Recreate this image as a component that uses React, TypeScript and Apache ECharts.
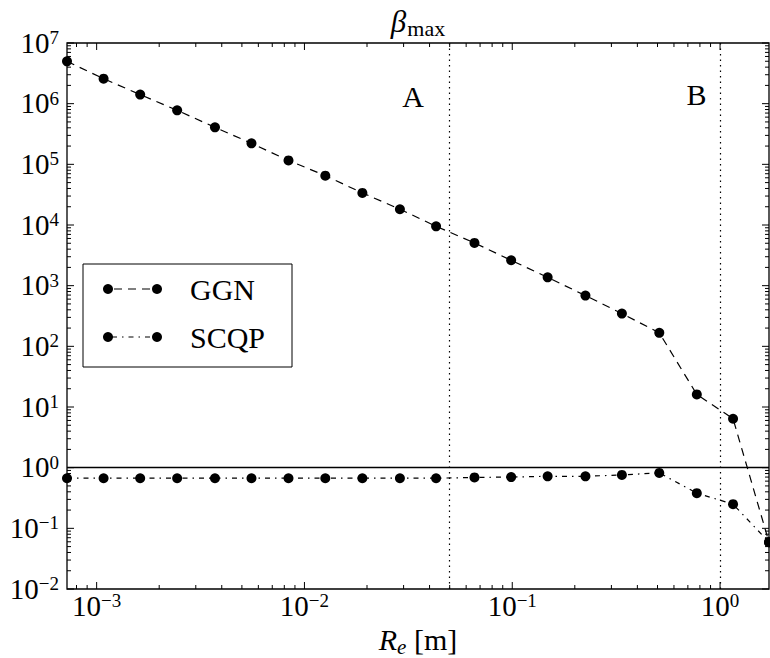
import React, { useEffect, useRef } from 'react';
import * as echarts from 'echarts';

// ---- data ----
const reValues = [
  7.2e-4, 1.08e-3, 1.62e-3, 2.44e-3, 3.71e-3, 5.56e-3, 8.38e-3, 0.0126, 0.019, 0.0288,
  0.043, 0.0658, 0.0988, 0.148, 0.225, 0.337, 0.51, 0.773, 1.155, 1.72,
];
const ggnValues = [
  4.98e6, 2.58e6, 1.41e6, 7.76e5, 4.07e5, 2.22e5, 1.16e5, 6.5e4, 3.38e4, 1.82e4,
  9.5e3, 5.07e3, 2.62e3, 1.37e3, 687, 347, 167, 16.1, 6.4, 0.059,
];
const scqpValues = [
  0.67, 0.67, 0.67, 0.67, 0.67, 0.67, 0.67, 0.67, 0.67, 0.67,
  0.67, 0.69, 0.7, 0.72, 0.72, 0.76, 0.82, 0.38, 0.25, 0.059,
];
const xRange = [7.2e-4, 1.72];
const yRange = [1e-2, 1e7];
const xMajorTicks = [1e-3, 1e-2, 1e-1, 1];
const xMinorTicks = [
  8e-4, 9e-4,
  2e-3, 3e-3, 4e-3, 5e-3, 6e-3, 7e-3, 8e-3, 9e-3,
  2e-2, 3e-2, 4e-2, 5e-2, 6e-2, 7e-2, 8e-2, 9e-2,
  0.2, 0.3, 0.4, 0.5, 0.6, 0.7, 0.8, 0.9,
];
const yMajorTicks = [1e-2, 1e-1, 1, 1e1, 1e2, 1e3, 1e4, 1e5, 1e6, 1e7];
const yMinorTicks = [
  2e-2, 3e-2, 4e-2, 5e-2, 6e-2, 7e-2, 8e-2, 9e-2,
  0.2, 0.3, 0.4, 0.5, 0.6, 0.7, 0.8, 0.9,
  2, 3, 4, 5, 6, 7, 8, 9,
  20, 30, 40, 50, 60, 70, 80, 90,
  200, 300, 400, 500, 600, 700, 800, 900,
  2e3, 3e3, 4e3, 5e3, 6e3, 7e3, 8e3, 9e3,
  2e4, 3e4, 4e4, 5e4, 6e4, 7e4, 8e4, 9e4,
  2e5, 3e5, 4e5, 5e5, 6e5, 7e5, 8e5, 9e5,
  2e6, 3e6, 4e6, 5e6, 6e6, 7e6, 8e6, 9e6,
];
const regionBounds = [0.05, 1.0];
const unityLevel = 1;
const regionLabelNames = ['A', 'B'];
const regionLabelX = [0.0333, 0.77];
const regionLabelY = [1.32e6, 1.4e6];
const seriesNames = ['GGN', 'SCQP'];

const FONT = 'Liberation Serif';

const plain = { fontFamily: FONT, fontStyle: 'normal', fontWeight: 'normal', color: '#000' };
const ital = { fontFamily: FONT, fontStyle: 'italic', fontWeight: 'normal', color: '#000' };

const powRich = {
  b: { ...plain, fontSize: 29, lineHeight: 30, verticalAlign: 'top' },
  s: { ...plain, fontSize: 19, lineHeight: 19, verticalAlign: 'top' },
};

function powLabel(v: number): string {
  const l = Math.log10(v);
  const e = Math.round(l);
  if (Math.abs(l - e) > 1e-6) return '';
  const exp = e < 0 ? '\u2212' + -e : String(e);
  return '{b|10}{s|' + exp + '}';
}

const legendText = (text: string, y: number) => ({
  type: 'text', x: 190, y,
  style: {
    text, fontFamily: FONT, fontSize: 30, fontStyle: 'normal', fontWeight: 'normal',
    fill: '#000', align: 'left', verticalAlign: 'middle',
  },
});

export default function App() {
  const ref = useRef<HTMLDivElement>(null);
  useEffect(() => {
    if (!ref.current) return;
    const chart = echarts.init(ref.current, null, { renderer: 'svg' });

    const tickData = [
      ...xMajorTicks.map((v) => [v, yRange[0], 1, 0]),
      ...xMinorTicks.map((v) => [v, yRange[0], 0, 0]),
      ...yMajorTicks.map((v) => [xRange[0], v, 1, 1]),
      ...yMinorTicks.map((v) => [xRange[0], v, 0, 1]),
    ];

    const dotted = { type: [1.5, 4], color: '#000', width: 1.2 };

    const option: any = {
      animation: false,
      backgroundColor: '#fff',
      textStyle: { fontFamily: FONT },
      grid: {
        left: 67, right: 1, top: 43, bottom: 69,
        show: true, borderColor: '#000', borderWidth: 1.3,
        backgroundColor: 'transparent',
        outerBoundsMode: 'none',
      },
      xAxis: {
        type: 'log', logBase: 10, min: xRange[0], max: xRange[1], splitNumber: 10,
        axisLine: { show: false }, axisTick: { show: false }, splitLine: { show: false },
        axisLabel: { formatter: powLabel, rich: powRich, margin: 2, fontFamily: FONT },
        name: '{i|R}{e|e}{r| [m]}',
        nameLocation: 'middle', nameGap: 33,
        nameTextStyle: {
          fontFamily: FONT,
          rich: {
            i: { ...ital, fontSize: 30, lineHeight: 30, verticalAlign: 'top' },
            e: { ...ital, fontSize: 21, lineHeight: 21, padding: [12, 0, 0, 0], verticalAlign: 'top' },
            r: { ...plain, fontSize: 30, lineHeight: 30, verticalAlign: 'top' },
          },
        },
      },
      yAxis: {
        type: 'log', logBase: 10, min: yRange[0], max: yRange[1], splitNumber: 10,
        axisLine: { show: false }, axisTick: { show: false }, splitLine: { show: false },
        axisLabel: { formatter: powLabel, rich: powRich, margin: 8, fontFamily: FONT },
      },
      graphic: [
        {
          type: 'text', x: 418, y: 21, z: 100,
          style: {
            text: '{b|\u03b2}{s|max}',
            fontFamily: FONT, fontSize: 30,
            align: 'center', verticalAlign: 'middle', fill: '#000',
            rich: {
              b: { fontFamily: FONT, fontStyle: 'italic', fontWeight: 'normal', fontSize: 31, lineHeight: 30, verticalAlign: 'top', fill: '#000' },
              s: { fontFamily: FONT, fontStyle: 'normal', fontWeight: 'normal', fontSize: 22, lineHeight: 21, padding: [11, 0, 0, 1], verticalAlign: 'top', fill: '#000' },
            },
          },
        },
        {
          type: 'group', z: 100,
          children: [
            { type: 'rect', shape: { x: 83, y: 264, width: 209, height: 103 }, style: { fill: '#fff', stroke: '#000', lineWidth: 1 } },
            { type: 'line', shape: { x1: 108, y1: 289, x2: 157, y2: 289 }, style: { stroke: '#000', lineWidth: 1.2, lineDash: [8, 6], lineDashOffset: -6 } },
            { type: 'circle', shape: { cx: 108, cy: 289, r: 5 }, style: { fill: '#000' } },
            { type: 'circle', shape: { cx: 157, cy: 289, r: 5 }, style: { fill: '#000' } },
            legendText(seriesNames[0], 289),
            { type: 'line', shape: { x1: 108, y1: 337, x2: 157, y2: 337 }, style: { stroke: '#000', lineWidth: 1.2, lineDash: [5, 5, 1.5, 5], lineDashOffset: -4 } },
            { type: 'circle', shape: { cx: 108, cy: 337, r: 5 }, style: { fill: '#000' } },
            { type: 'circle', shape: { cx: 157, cy: 337, r: 5 }, style: { fill: '#000' } },
            legendText(seriesNames[1], 337),
          ],
        },
      ],
      series: [
        {
          name: seriesNames[0],
          type: 'line',
          data: reValues.map((x, i) => [x, ggnValues[i]]),
          symbol: 'circle', symbolSize: 10,
          itemStyle: { color: '#000' },
          lineStyle: { color: '#000', width: 1.2, type: [8, 6] },
          z: 4,
          markLine: {
            silent: true, symbol: ['none', 'none'], label: { show: false },
            data: [
              { xAxis: regionBounds[0], lineStyle: dotted },
              { xAxis: regionBounds[1], lineStyle: dotted },
              { yAxis: unityLevel, lineStyle: { type: 'solid', color: '#000', width: 1.3 } },
            ],
          },
        },
        {
          name: seriesNames[1],
          type: 'line',
          data: reValues.map((x, i) => [x, scqpValues[i]]),
          symbol: 'circle', symbolSize: 10,
          itemStyle: { color: '#000' },
          lineStyle: { color: '#000', width: 1.2, type: [5, 5, 1.5, 5] },
          z: 4,
        },
        {
          type: 'custom',
          silent: true,
          clip: false,
          encode: { x: 0, y: 1 },
          data: regionLabelNames.map((n, i) => [regionLabelX[i], regionLabelY[i], i]),
          z: 5,
          renderItem: (params: any, api: any) => {
            const p = api.coord([api.value(0), api.value(1)]);
            return {
              type: 'text', x: p[0], y: p[1],
              style: {
                text: regionLabelNames[api.value(2)],
                fontFamily: FONT, fontSize: 30, fontStyle: 'normal', fontWeight: 'normal',
                fill: '#000', align: 'center', verticalAlign: 'middle',
              },
            };
          },
        },
        {
          type: 'custom',
          silent: true,
          clip: false,
          encode: { x: 0, y: 1 },
          data: tickData,
          z: 6,
          renderItem: (params: any, api: any) => {
            const isMajor = api.value(2) === 1;
            const isY = api.value(3) === 1;
            const len = isMajor ? 7 : 4;
            const style = { stroke: '#000', lineWidth: 1 };
            if (!isY) {
              const v = api.value(0);
              const b = api.coord([v, yRange[0]]);
              const t = api.coord([v, yRange[1]]);
              return {
                type: 'group',
                children: [
                  { type: 'line', shape: { x1: b[0], y1: b[1], x2: b[0], y2: b[1] - len }, style },
                  { type: 'line', shape: { x1: t[0], y1: t[1], x2: t[0], y2: t[1] + len }, style },
                ],
              };
            }
            const v = api.value(1);
            const l = api.coord([xRange[0], v]);
            const r = api.coord([xRange[1], v]);
            return {
              type: 'group',
              children: [
                { type: 'line', shape: { x1: l[0], y1: l[1], x2: l[0] + len, y2: l[1] }, style },
                { type: 'line', shape: { x1: r[0], y1: r[1], x2: r[0] - len, y2: r[1] }, style },
              ],
            };
          },
        },
      ],
    };

    chart.setOption(option);
    return () => chart.dispose();
  }, []);

  return (
    <div
      ref={ref}
      style={{ position: 'absolute', left: 0, top: 0, width: 770, height: 658, background: '#fff' }}
    />
  );
}
